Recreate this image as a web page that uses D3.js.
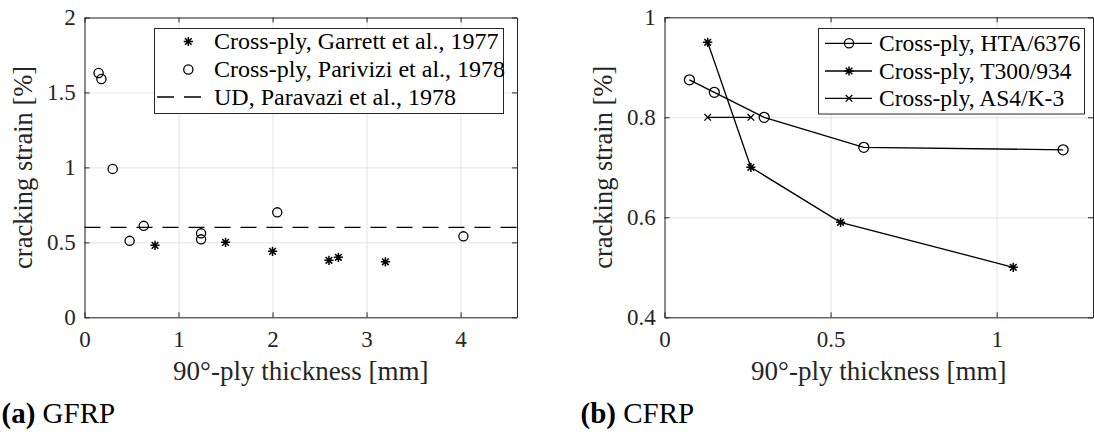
<!DOCTYPE html>
<html>
<head>
<meta charset="utf-8">
<script src="https://cdn.jsdelivr.net/npm/d3@7"></script>
<style>
  body{margin:0;background:#fff;}
  svg{display:block;}
</style>
</head>
<body>
<svg id="chart" width="1094" height="434"></svg>
<script>
"use strict"

// (a) GFRP data
const garrettX=[0.75,1.5,2.0,2.6,2.7,3.2];
const garrettY=[0.48,0.50,0.44,0.38,0.40,0.37];
const parviziX=[0.15,0.18,0.30,0.48,0.63,1.24,1.24,2.05,4.03];
const parviziY=[1.63,1.59,0.99,0.51,0.61,0.56,0.52,0.70,0.54];
const udStrain=0.6;

// (b) CFRP data
const htaX=[0.075,0.15,0.30,0.60,1.20];
const htaY=[0.875,0.85,0.80,0.74,0.735];
const t300X=[0.13,0.26,0.53,1.05];
const t300Y=[0.95,0.70,0.59,0.50];
const as4X=[0.13,0.26];
const as4Y=[0.80,0.80];

const ticksA_x=[0,1,2,3,4];
const ticksA_y=[0,0.5,1,1.5,2];
const ticksB_x=[0,0.5,1];
const ticksB_y=[0.4,0.6,0.8,1];

const legendA=["Cross-ply, Garrett et al., 1977","Cross-ply, Parivizi et al., 1978","UD, Paravazi et al., 1978"];
const legendB=["Cross-ply, HTA/6376","Cross-ply, T300/934","Cross-ply, AS4/K-3"];

const FONT='"Liberation Serif","Times New Roman",serif';
const axisColor="#262626";
const gridColor="#e3e3e3";

const svg=d3.select("#chart").attr("font-family",FONT);

// marker drawing helpers
function star(g,x,y){
    var s=4.6, d=s*0.72;
    g.append("path")
    .attr("d",`M${x-s},${y}L${x+s},${y}M${x},${y-s}L${x},${y+s}M${x-d},${y-d}L${x+d},${y+d}M${x-d},${y+d}L${x+d},${y-d}`)
    .attr("stroke","#000").attr("stroke-width",1.5).attr("fill","none");
}
function circ(g,x,y,r){
    g.append("circle").attr("cx",x).attr("cy",y).attr("r",r||4.6)
    .attr("fill","none").attr("stroke","#000").attr("stroke-width",1.3);
}
function cross(g,x,y){
    var d=3.3;
    g.append("path")
    .attr("d",`M${x-d},${y-d}L${x+d},${y+d}M${x-d},${y+d}L${x+d},${y-d}`)
    .attr("stroke","#000").attr("stroke-width",1.3).attr("fill","none");
}

// builds one axes box with grid, ticks and labels
function makeAxes(box,xDom,yDom,xTicks,yTicks,fmtY){
    const x=d3.scaleLinear().domain(xDom).range([box.left,box.right]);
    const y=d3.scaleLinear().domain(yDom).range([box.bottom,box.top]);
    const w=box.right-box.left, h=box.bottom-box.top;
    const g=svg.append("g");

    // grid
    g.append("g").attr("transform",`translate(0,${box.bottom})`)
    .call(d3.axisBottom(x).tickValues(xTicks).tickSize(-h).tickFormat(""))
    .call(a=>a.select(".domain").remove())
    .call(a=>a.selectAll("line").attr("stroke",gridColor));
    g.append("g").attr("transform",`translate(${box.left},0)`)
    .call(d3.axisLeft(y).tickValues(yTicks).tickSize(-w).tickFormat(""))
    .call(a=>a.select(".domain").remove())
    .call(a=>a.selectAll("line").attr("stroke",gridColor));

    const plot=g.append("g");
    const top=g.append("g");

    // axes with inward ticks
    top.append("g").attr("transform",`translate(0,${box.bottom})`)
    .call(d3.axisBottom(x).tickValues(xTicks).tickSizeInner(-5).tickSizeOuter(0).tickPadding(13).tickFormat(d3.format("")))
    .attr("font-family",FONT).attr("font-size",23)
    .call(a=>a.selectAll("text").attr("fill",axisColor));
    top.append("g").attr("transform",`translate(${box.left},0)`)
    .call(d3.axisLeft(y).tickValues(yTicks).tickSizeInner(-5).tickSizeOuter(0).tickPadding(8.8).tickFormat(fmtY))
    .attr("font-family",FONT).attr("font-size",23)
    .call(a=>a.selectAll("text").attr("fill",axisColor));
    top.append("g").attr("transform",`translate(0,${box.top})`)
    .call(d3.axisTop(x).tickValues(xTicks).tickSizeInner(-5).tickSizeOuter(0).tickFormat(""));
    top.append("g").attr("transform",`translate(${box.right},0)`)
    .call(d3.axisRight(y).tickValues(yTicks).tickSizeInner(-5).tickSizeOuter(0).tickFormat(""));
    top.selectAll(".domain,line").attr("stroke",axisColor);

    // labels
    g.append("text").attr("x",(box.left+box.right)/2).attr("y",380)
    .attr("text-anchor","middle").attr("font-size",27).attr("fill",axisColor)
    .text("90°-ply thickness [mm]");
    g.append("text").attr("transform",`translate(${box.left-53},${(box.top+box.bottom)/2}) rotate(-90)`)
    .attr("text-anchor","middle").attr("font-size",26.5).attr("fill",axisColor)
    .text("cracking strain [%]");

    return {x:x,y:y,plot:plot,g:g};
}

// ---------- panel (a)
const A=makeAxes({left:84.5,right:517,top:17.5,bottom:317.3},[0,4.6],[0,2],ticksA_x,ticksA_y,d3.format(""));

A.plot.append("line")
.attr("x1",A.x(0)).attr("x2",A.x(4.6))
.attr("y1",A.y(udStrain)).attr("y2",A.y(udStrain))
.attr("stroke","#000").attr("stroke-width",1.3).attr("stroke-dasharray","16,10");
garrettX.forEach((d,i)=>star(A.plot,A.x(d),A.y(garrettY[i])));
parviziX.forEach((d,i)=>circ(A.plot,A.x(d),A.y(parviziY[i])));

// legend (a)
var legA=A.g.append("g");
legA.append("rect").attr("x",154.5).attr("y",28.5).attr("width",349).attr("height",85)
.attr("fill","#fff").attr("stroke",axisColor).attr("stroke-width",1);
const rowA=[41.5,69.5,97];
star(legA,188.3,rowA[0]);
circ(legA,188.3,rowA[1]);
legA.append("line").attr("x1",157).attr("x2",202).attr("y1",rowA[2]).attr("y2",rowA[2])
.attr("stroke","#000").attr("stroke-width",1.3).attr("stroke-dasharray","17,10");
legA.selectAll("text.lab").data(legendA).enter().append("text").attr("class","lab")
.attr("x",214).attr("y",(d,i)=>rowA[i]).attr("dy","0.33em")
.attr("font-size",24).attr("fill","#000").text(d=>d);

// ---------- panel (b)
const B=makeAxes({left:664.5,right:1093,top:17.3,bottom:317.3},[0,1.29],[0.4,1],ticksB_x,ticksB_y,d3.format(""));

const lineGen=d3.line().x(d=>B.x(d[0])).y(d=>B.y(d[1]));
const series=[
    {xs:htaX,ys:htaY,mark:"o"},
    {xs:t300X,ys:t300Y,mark:"*"},
    {xs:as4X,ys:as4Y,mark:"x"}
];
series.forEach(function(s){
    var pts=s.xs.map((d,i)=>[d,s.ys[i]]);
    B.plot.append("path").attr("d",lineGen(pts)).attr("fill","none")
    .attr("stroke","#000").attr("stroke-width",1.3);
    pts.forEach(function(p){
        if(s.mark=="o") circ(B.plot,B.x(p[0]),B.y(p[1]),5);
        else if(s.mark=="*") star(B.plot,B.x(p[0]),B.y(p[1]));
        else cross(B.plot,B.x(p[0]),B.y(p[1]));
    });
});

// legend (b)
var legB=B.g.append("g");
legB.append("rect").attr("x",818.5).attr("y",28.5).attr("width",266).attr("height",85.5)
.attr("fill","#fff").attr("stroke",axisColor).attr("stroke-width",1);
const rowB=[43.3,71,98.3];
series.forEach(function(s,i){
    legB.append("line").attr("x1",825).attr("x2",872).attr("y1",rowB[i]).attr("y2",rowB[i])
    .attr("stroke","#000").attr("stroke-width",1.3);
    if(s.mark=="o") circ(legB,849,rowB[i],4.6);
    else if(s.mark=="*") star(legB,849,rowB[i]);
    else cross(legB,849,rowB[i]);
});
legB.selectAll("text.lab").data(legendB).enter().append("text").attr("class","lab")
.attr("x",879).attr("y",(d,i)=>rowB[i]).attr("dy","0.33em")
.attr("font-size",23.5).attr("fill","#000").text(d=>d);

// captions
function caption(x,tag,name){
    var t=svg.append("text").attr("x",x).attr("y",423).attr("font-size",29).attr("fill","#000");
    t.append("tspan").attr("font-weight","bold").text(tag);
    t.append("tspan").text(" "+name);
}
caption(1.5,"(a)","GFRP");
caption(580.5,"(b)","CFRP");
</script>
</body>
</html>
